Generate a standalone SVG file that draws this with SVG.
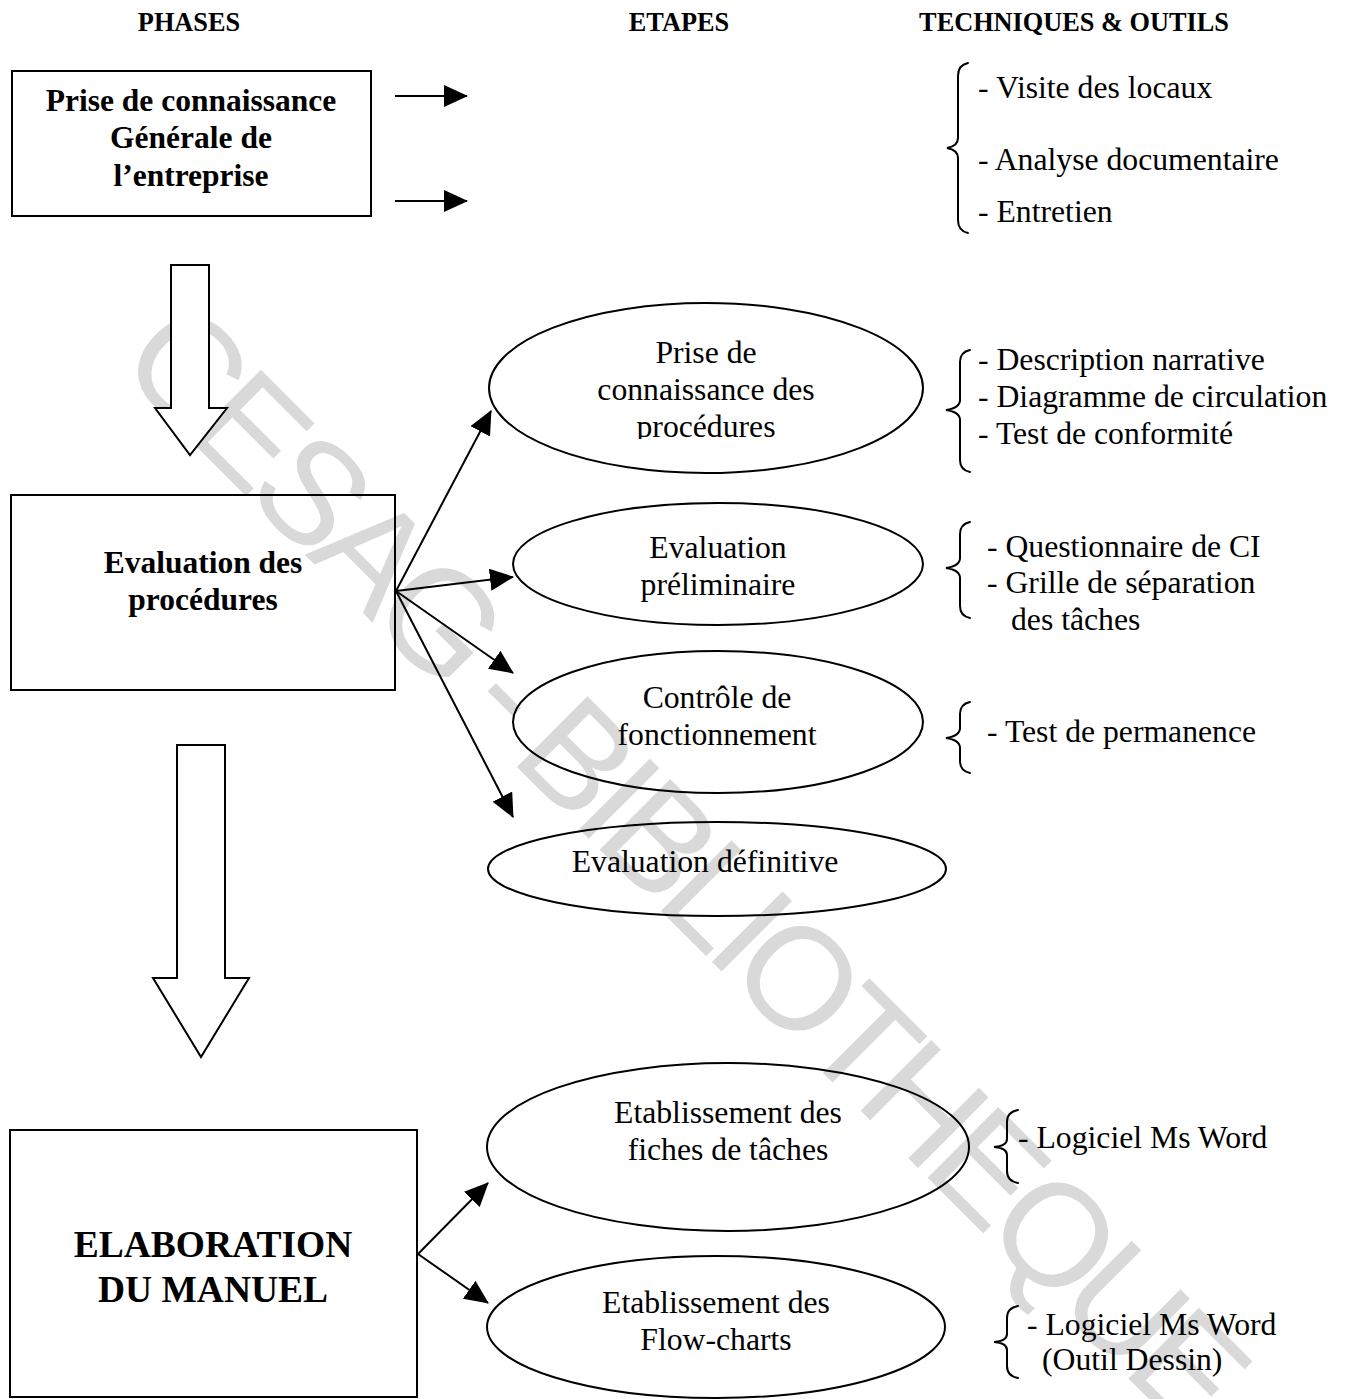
<svg xmlns="http://www.w3.org/2000/svg" width="1349" height="1399" viewBox="0 0 1349 1399">
  <style>
    .bg { fill: #ffffff; }
    .box { fill: none; stroke: #000; stroke-width: 2; }
    .ell { fill: none; stroke: #000; stroke-width: 2; }
    .blk { fill: #fff; stroke: #000; stroke-width: 2; stroke-linejoin: miter; }
    .con { fill: none; stroke: #000; stroke-width: 2; }
    .brace { fill: none; stroke: #000; stroke-width: 2; stroke-linecap: round; }
    .hd { font-family: "Liberation Serif", "Times New Roman", serif; font-weight: bold; font-size: 26.3px; text-anchor: middle; fill: #000; }
    .bt { font-family: "Liberation Serif", "Times New Roman", serif; font-weight: bold; font-size: 31.5px; text-anchor: middle; fill: #000; }
    .big { font-family: "Liberation Serif", "Times New Roman", serif; font-weight: bold; font-size: 37.5px; text-anchor: middle; fill: #000; }
    .et { font-family: "Liberation Serif", "Times New Roman", serif; font-size: 31.7px; text-anchor: middle; fill: #000; }
    .tt { font-family: "Liberation Serif", "Times New Roman", serif; font-size: 31.7px; fill: #000; }
    .wm { font-family: "Liberation Sans", Arial, sans-serif; font-size: 145px; letter-spacing: -10px; fill: #d9d9d9; }
  </style>
  <defs>
    <marker id="head" markerUnits="userSpaceOnUse" markerWidth="24" markerHeight="22" refX="23" refY="11" orient="auto">
      <path d="M0,0 L24,11 L0,22 Z" fill="#000"/>
    </marker>
    <clipPath id="clipE1">
      <rect x="480" y="300" width="460" height="139"/>
    </clipPath>
  </defs>

  <rect class="bg" x="0" y="0" width="1349" height="1399"/>

  <!-- diagonal library stamp -->
  <text class="wm" transform="translate(115,365) rotate(45)" x="0" y="0">CESAG - BIBLIOTHEQUE</text>

  <!-- column headers -->
  <g id="headers">
    <text class="hd" x="189" y="31">PHASES</text>
    <text class="hd" x="679" y="31">ETAPES</text>
    <text class="hd" x="1074" y="31">TECHNIQUES &amp; OUTILS</text>
  </g>

  <!-- phase boxes -->
  <g id="phase-prise">
    <rect class="box" x="12" y="71" width="359" height="145"/>
    <text class="bt" x="191" y="111">Prise de connaissance</text>
    <text class="bt" x="191" y="148">Générale de</text>
    <text class="bt" x="191" y="186">l’entreprise</text>
  </g>

  <g id="phase-evaluation">
    <rect class="box" x="11" y="495" width="384" height="195"/>
    <text class="bt" x="203" y="573">Evaluation des</text>
    <text class="bt" x="203" y="610">procédures</text>
  </g>

  <g id="phase-elaboration">
    <rect class="box" x="10" y="1130" width="407" height="267"/>
    <text class="big" x="213" y="1257">ELABORATION</text>
    <text class="big" x="213" y="1302">DU MANUEL</text>
  </g>

  <!-- block arrows between phases -->
  <g id="down-arrow-1">
    <path class="blk" d="M171,265 L209,265 L209,408 L227,408 L190,455 L155,408 L171,408 Z"/>
  </g>
  <g id="down-arrow-2">
    <path class="blk" d="M177,745 L225,745 L225,978 L249,978 L201,1057 L153,978 L177,978 Z"/>
  </g>

  <!-- steps -->
  <g id="step-prise-procedures">
    <ellipse class="ell" cx="706" cy="388" rx="217" ry="85"/>
    <g clip-path="url(#clipE1)">
      <text class="et" x="706" y="363">Prise de</text>
      <text class="et" x="706" y="400">connaissance des</text>
      <text class="et" x="706" y="437">procédures</text>
    </g>
  </g>

  <g id="step-eval-prelim">
    <ellipse class="ell" cx="718" cy="564" rx="205" ry="61"/>
    <text class="et" x="718" y="558">Evaluation</text>
    <text class="et" x="718" y="595">préliminaire</text>
  </g>

  <g id="step-controle">
    <ellipse class="ell" cx="718" cy="722" rx="205" ry="71"/>
    <text class="et" x="717" y="708">Contrôle de</text>
    <text class="et" x="717" y="745">fonctionnement</text>
  </g>

  <g id="step-eval-def">
    <ellipse class="ell" cx="717" cy="869" rx="229" ry="47"/>
    <text class="et" x="705" y="872">Evaluation définitive</text>
  </g>

  <g id="step-fiches">
    <ellipse class="ell" cx="728" cy="1147" rx="241" ry="84"/>
    <text class="et" x="728" y="1123">Etablissement des</text>
    <text class="et" x="728" y="1160">fiches de tâches</text>
  </g>

  <g id="step-flowcharts">
    <ellipse class="ell" cx="716" cy="1327" rx="229" ry="71"/>
    <text class="et" x="716" y="1313">Etablissement des</text>
    <text class="et" x="716" y="1350">Flow-charts</text>
  </g>

  <!-- connectors -->
  <g id="connectors">
    <line class="con" x1="395" y1="96" x2="467" y2="96" marker-end="url(#head)"/>
    <line class="con" x1="395" y1="201" x2="467" y2="201" marker-end="url(#head)"/>
    <line class="con" x1="396" y1="591" x2="491" y2="411" marker-end="url(#head)"/>
    <line class="con" x1="396" y1="591" x2="513" y2="577" marker-end="url(#head)"/>
    <line class="con" x1="396" y1="591" x2="513" y2="673" marker-end="url(#head)"/>
    <line class="con" x1="396" y1="591" x2="513" y2="817" marker-end="url(#head)"/>
    <line class="con" x1="418" y1="1254" x2="488" y2="1183" marker-end="url(#head)"/>
    <line class="con" x1="418" y1="1254" x2="488" y2="1303" marker-end="url(#head)"/>
  </g>

  <!-- techniques & tools -->
  <g id="tools-prise">
    <path class="brace" d="M968,63 Q958,65 958,76 L958,138 Q958,146 947,148 Q958,150 958,158 L958,220 Q958,231 968,233"/>
    <text class="tt" x="978" y="98">- Visite des locaux</text>
    <text class="tt" x="978" y="170">- Analyse documentaire</text>
    <text class="tt" x="978" y="222">- Entretien</text>
  </g>

  <g id="tools-procedures">
    <path class="brace" d="M970,350 Q960,352 960,362 L960,400 Q960,408 946,410 Q960,412 960,420 L960,460 Q960,470 970,472"/>
    <text class="tt" x="978" y="370">- Description narrative</text>
    <text class="tt" x="978" y="407">- Diagramme de circulation</text>
    <text class="tt" x="978" y="444">- Test de conformité</text>
  </g>

  <g id="tools-prelim">
    <path class="brace" d="M970,522 Q960,524 960,534 L960,558 Q960,566 946,568 Q960,570 960,578 L960,606 Q960,616 970,618"/>
    <text class="tt" x="987" y="557">- Questionnaire de CI</text>
    <text class="tt" x="987" y="593">- Grille de séparation</text>
    <text class="tt" x="1011" y="630">des tâches</text>
  </g>

  <g id="tools-controle">
    <path class="brace" d="M970,702 Q960,704 960,714 L960,728 Q960,736 946,738 Q960,740 960,748 L960,761 Q960,771 970,773"/>
    <text class="tt" x="987" y="742">- Test de permanence</text>
  </g>

  <g id="tools-fiches">
    <path class="brace" d="M1018,1110 Q1007,1112 1007,1122 L1007,1139 Q1007,1146 994,1147 Q1007,1148 1007,1155 L1007,1171 Q1007,1181 1018,1183"/>
    <text class="tt" x="1018" y="1148">- Logiciel Ms Word</text>
  </g>

  <g id="tools-flowcharts">
    <path class="brace" d="M1018,1306 Q1007,1308 1007,1318 L1007,1334 Q1007,1341 994,1342 Q1007,1343 1007,1350 L1007,1366 Q1007,1376 1018,1378"/>
    <text class="tt" x="1027" y="1335">- Logiciel Ms Word</text>
    <text class="tt" x="1042" y="1370">(Outil Dessin)</text>
  </g>
</svg>
